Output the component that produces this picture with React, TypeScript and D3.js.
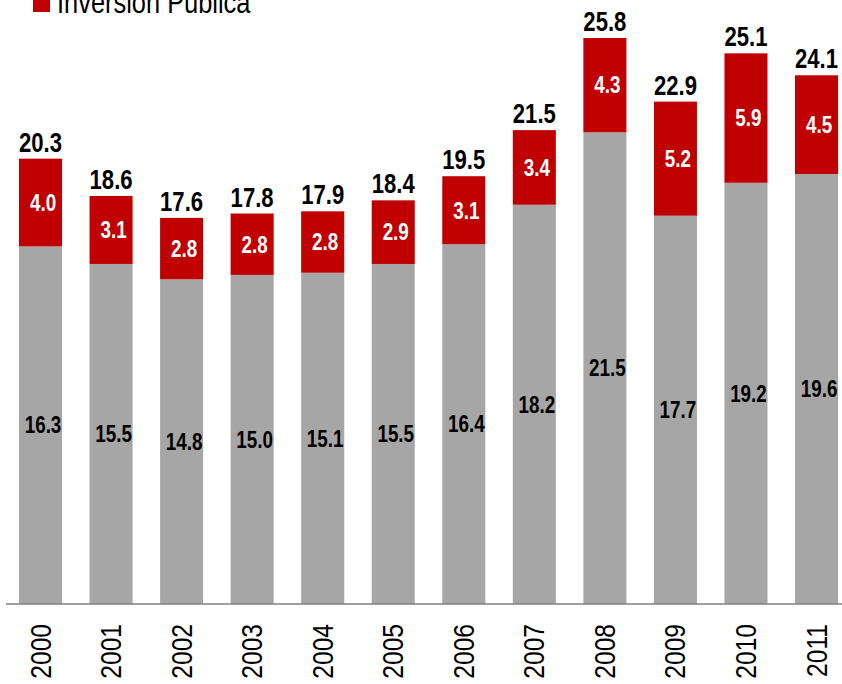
import React from "react";
import * as d3 from "d3";

const years = ["2000","2001","2002","2003","2004","2005","2006","2007","2008","2009","2010","2011"];
const privada = [16.3,15.5,14.8,15.0,15.1,15.5,16.4,18.2,21.5,17.7,19.2,19.6];
const publica = [4.0,3.1,2.8,2.8,2.8,2.9,3.1,3.4,4.3,5.2,5.9,4.5];
const totals = [20.3,18.6,17.6,17.8,17.9,18.4,19.5,21.5,25.8,22.9,25.1,24.1];
const legendLabel = "Inversión Pública";

const W = 842, H = 684;
const FONT = "'Liberation Sans', Arial, sans-serif";
const SX = 0.82;

export default function App() {
  const baseY = 604;
  const x = d3.scaleBand<string>().domain(years).range([-2.17, 859.2]).paddingInner(0.39).paddingOuter(0.3);
  const y = d3.scaleLinear().domain([0, 25.8]).range([baseY, 38]);
  const bw = x.bandwidth();
  return (
    <svg width={W} height={H} style={{ position: "absolute", left: 0, top: 0, background: "#fff" }}>
      {years.map((yr, i) => {
        const x0 = x(yr)!;
        const cx = x0 + bw / 2;
        const g = privada[i];
        const r = publica[i];
        const t = g + r;
        const yG = y(g), yT = y(t);
        return (
          <g key={yr}>
            <rect x={x0} y={yG} width={bw} height={baseY - yG} fill="#a6a6a6" />
            <rect x={x0} y={yT} width={bw} height={yG - yT} fill="#c00000" />
            <text transform={`translate(${cx + 2.5},${(yG + baseY) / 2}) scale(${SX},1)`} dy="0.36em" textAnchor="middle" fontFamily={FONT} fontWeight="bold" fontSize={23} fill="#000">{g.toFixed(1)}</text>
            <text transform={`translate(${cx + 2.5},${(yT + yG) / 2}) scale(${SX},1)`} dy="0.36em" textAnchor="middle" fontFamily={FONT} fontWeight="bold" fontSize={23} fill="#fff">{r.toFixed(1)}</text>
            <text transform={`translate(${cx},${yT - 7}) scale(${SX},1)`} textAnchor="middle" fontFamily={FONT} fontWeight="bold" fontSize={27} fill="#000">{totals[i].toFixed(1)}</text>
            <text transform={`translate(${cx + 10},624) rotate(-90) scale(${SX},1)`} textAnchor="end" fontFamily={FONT} fontSize={30} fill="#000">{yr}</text>
          </g>
        );
      })}
      <line x1={6} x2={W} y1={baseY} y2={baseY} stroke="#808080" strokeWidth={1.5} />
      <rect x={33} y={-5} width={17} height={17} fill="#c00000" />
      <text transform={`translate(57,13) scale(${SX},1)`} fontFamily={FONT} fontSize={31} fill="#000">{legendLabel}</text>
    </svg>
  );
}
